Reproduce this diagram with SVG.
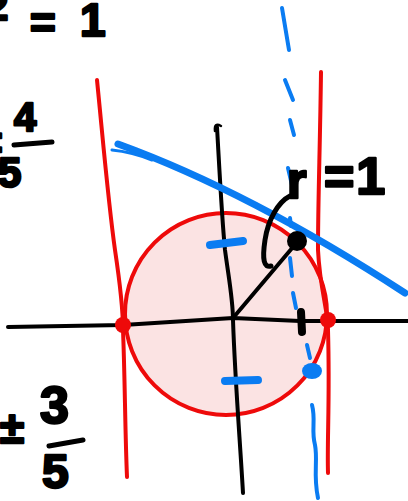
<svg xmlns="http://www.w3.org/2000/svg" width="408" height="501" viewBox="0 0 408 501">
<style>
.k{fill:none;stroke:#000;stroke-linecap:round;stroke-linejoin:round}
.r{fill:none;stroke:#ee0a0a;stroke-width:4;stroke-linecap:round}
.b{fill:none;stroke:#0a7cf2;stroke-linecap:round}
.t{font-family:"Liberation Sans","DejaVu Sans",sans-serif;font-weight:bold;fill:#000;stroke:#000;stroke-width:2.5;stroke-linejoin:round}
</style>
<rect width="408" height="501" fill="#fff"/>
<g id="circle">
<circle cx="226" cy="314" r="101" fill="#fbe3e3" stroke="#ee0a0a" stroke-width="4"/>
</g>
<g id="axes">
<path class="k" stroke-width="4" d="M8,327 L123,325 L233,318 L300,321 L408,321"/>
<path class="k" stroke-width="4" d="M217,127 C220,180 222,220 225,250 C229,280 233,300 233,320 C235,380 240,440 243,493"/>
<path class="k" stroke-width="2.5" d="M215,131 Q214,122 221,126"/>
</g>
<g id="red-lines">
<path class="r" d="M97,80 C103,140 108,200 115,250 C121,290 123,310 123,330 C125,380 125,430 127,477"/>
<path class="r" d="M321,72 C320,150 318,200 318,250 C320,290 328,310 328,330 C330,400 327,440 328,473"/>
<circle cx="123" cy="325" r="8" fill="#ee0a0a"/>
<circle cx="328" cy="320" r="8" fill="#ee0a0a"/>
</g>
<g id="tangent">
<path class="b" stroke-width="7" d="M118,144 Q250,192 405,293"/>
<path class="b" stroke-width="3" d="M112,150 Q132,152 152,160"/>
</g>
<g id="dashed">
<g class="b" stroke-width="4">
<path d="M282,8 L289,50"/><path d="M285,80 L293,100"/><path d="M290,120 L294,135"/>
<path d="M288,168 L292,185"/><path d="M290,218 L291,226"/><path d="M290,258 L292,276"/>
<path d="M293,293 L296,308"/><path d="M307,345 L310,358"/>
<path d="M312,405 C316,420 311,430 315,445 C318,460 313,475 318,498"/>
</g>
<ellipse cx="312" cy="371" rx="10" ry="8" fill="#0a7cf2"/>
</g>
<g id="ticks">
<path class="b" stroke-width="8" d="M210,245 L243,241"/>
<path class="b" stroke-width="8" d="M225,381 L258,380"/>
<path class="k" stroke-width="8" d="M301,312 L302,332"/>
</g>
<g id="radius">
<path class="k" stroke-width="4" d="M233,318 L293,247"/>
<circle cx="297" cy="241" r="10" fill="#000"/>
<path class="k" stroke-width="5" d="M290,196 C278,202 268,220 265,240 C262,260 264,268 271,266"/>
</g>
<g id="labels">
<text class="t" x="287" y="198" font-size="50">r</text>
<text class="t" x="324" y="194" font-size="52" letter-spacing="2">=1</text>
<text class="t" x="-14" y="20" font-size="40">2</text>
<text class="t" x="30" y="38" font-size="44">=</text>
<text class="t" x="80" y="36" font-size="46">1</text>
<text class="t" x="-20" y="152" font-size="40">±</text>
<text class="t" x="14" y="131" font-size="40">4</text>
<path class="k" stroke-width="5" d="M14,145 L52,142"/>
<text class="t" x="-2" y="187" font-size="42">5</text>
<text class="t" x="0" y="443" font-size="44">±</text>
<text class="t" x="40" y="423" font-size="52">3</text>
<path class="k" stroke-width="5" d="M49,446 L83,440"/>
<text class="t" x="42" y="488" font-size="48">5</text>
</g>
</svg>
